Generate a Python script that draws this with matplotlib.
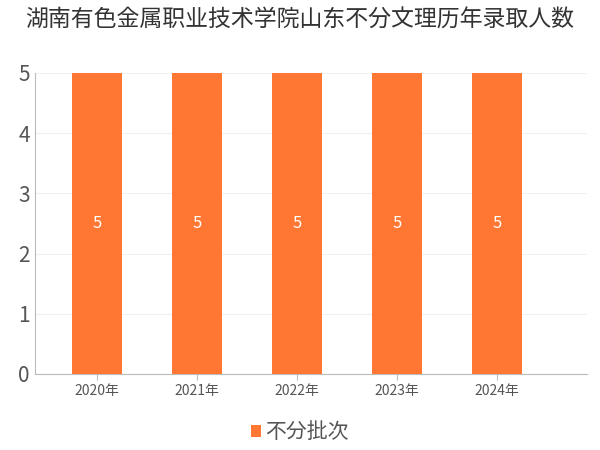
import matplotlib
matplotlib.use("Agg")
import matplotlib.pyplot as plt
from matplotlib import font_manager as fm

cjk = None
for f in fm.findSystemFonts():
    if "CJK" in f or "cjk" in f.lower():
        try:
            fm.fontManager.addfont(f)
            name = fm.FontProperties(fname=f).get_name()
            if cjk is None or "SC" in name:
                cjk = name
        except Exception:
            pass
plt.rcParams["font.family"] = [cjk or "Noto Sans CJK SC", "DejaVu Sans"]

years = ["2020年", "2021年", "2022年", "2023年", "2024年"]
values = [5, 5, 5, 5, 5]
series_name = "不分批次"
title = "湖南有色金属职业技术学院山东不分文理历年录取人数"
color = "#ff7733"

fig = plt.figure(figsize=(6, 4.5), dpi=100)
ax = fig.add_axes([0.058, 0.169, 0.92, 0.669])
x = range(len(years))
bars = ax.bar(x, values, width=0.5, color=color, zorder=3)
for i, v in zip(x, values):
    ax.text(i, v / 2, str(v), ha="center", va="center", color="white", fontsize=12, zorder=4)
ax.set_xticks(list(x))
ax.set_xticklabels(years, fontsize=10, color="#555555")
ax.set_xlim(-0.62, 4.9)
ax.set_ylim(0, 5)
ax.set_yticks(range(6))
ax.tick_params(axis="y", labelsize=15, colors="#555555", length=0)
ax.tick_params(axis="x", length=4, color="#bbbbbb")
ax.grid(axis="y", color="#f0f0f0", zorder=0)
for s in ["top", "right"]:
    ax.spines[s].set_visible(False)
ax.spines["left"].set_color("#bbbbbb")
ax.spines["bottom"].set_color("#bbbbbb")
fig.text(0.5, 0.955, title, ha="center", va="center", fontsize=16.5, color="#333333")
fig.legend([bars], [series_name], loc="center", bbox_to_anchor=(0.5, 0.04), frameon=False,
           fontsize=15, handlelength=0.5, handleheight=0.5, handletextpad=0.2, labelcolor="#555555")
fig.savefig("out.png")
